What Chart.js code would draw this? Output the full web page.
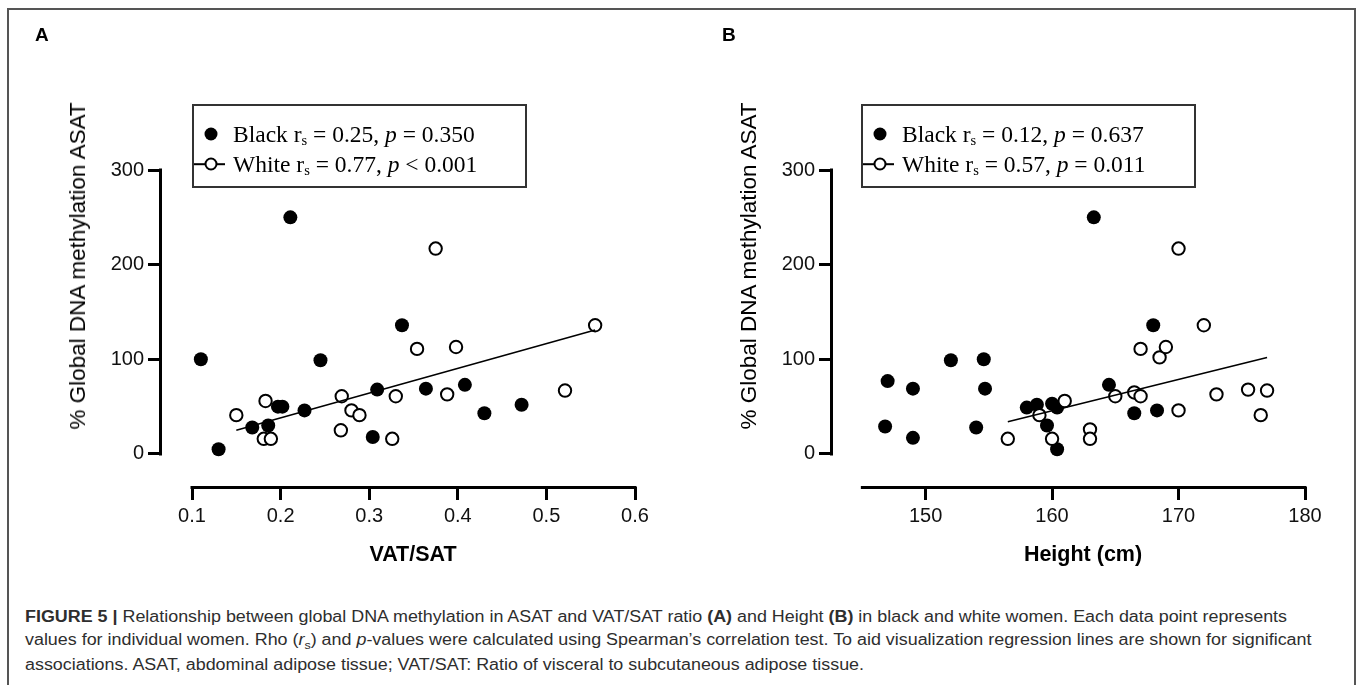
<!DOCTYPE html>
<html><head><meta charset="utf-8">
<script src="https://cdn.jsdelivr.net/npm/chart.js@4.4.1/dist/chart.umd.min.js"></script>
<style>
html,body{margin:0;padding:0;background:#fff;}
body{width:1358px;height:685px;position:relative;overflow:hidden;font-family:"Liberation Sans",Arial,sans-serif;color:#000;}
#frame{position:absolute;left:7px;top:8px;width:1349px;height:720px;border:2px solid #555;box-sizing:border-box;}
canvas{position:absolute;top:0;}
.letter{position:absolute;font-weight:bold;font-size:19px;line-height:19px;}
.ytitle{position:absolute;font-size:22.5px;white-space:nowrap;transform:translate(-50%,-50%) rotate(-90deg);}
.xtitle{position:absolute;font-size:21.5px;font-weight:bold;white-space:nowrap;transform:translate(-50%,-50%);}
.legend{position:absolute;border:2px solid #333;box-sizing:border-box;font-family:"Liberation Serif","Times New Roman",serif;font-size:23.5px;width:335px;height:84px;top:104px;}
.row{position:absolute;left:39px;white-space:nowrap;line-height:24px;transform:translateY(-50%);}
.row sub{font-size:0.62em;vertical-align:-0.22em;line-height:0;}
.dot{position:absolute;width:13px;height:13px;border-radius:50%;background:#000;transform:translate(-50%,-50%);}
.odot{position:absolute;width:13px;height:13px;border-radius:50%;background:#fff;border:2px solid #000;box-sizing:border-box;transform:translate(-50%,-50%);}
.lline{position:absolute;left:0;width:31px;height:1.6px;background:#000;transform:translateY(-50%);}
.cap{position:absolute;left:25px;white-space:nowrap;font-size:16px;color:#2e2e2e;transform-origin:0 50%;}
</style>
</head><body>
<div id="frame"></div>
<canvas id="cA" width="680" height="600" style="left:0px"></canvas>
<canvas id="cB" width="678" height="600" style="left:680px"></canvas>

<div class="letter" style="left:35px;top:25px">A</div>
<div class="letter" style="left:722px;top:25px">B</div>

<div class="ytitle" style="left:78px;top:266px">% Global DNA methylation ASAT</div>
<div class="ytitle" style="left:749px;top:266px">% Global DNA methylation ASAT</div>
<div class="xtitle" style="left:413px;top:554px">VAT/SAT</div>
<div class="xtitle" style="left:1083px;top:554px">Height (cm)</div>

<div class="legend" style="left:192px">
  <div class="dot" style="left:17px;top:28px"></div>
  <div class="row" style="top:28px">Black r<sub>s</sub> = 0.25, <i>p</i> = 0.350</div>
  <div class="lline" style="top:58px"></div>
  <div class="odot" style="left:17px;top:58px"></div>
  <div class="row" style="top:58px">White r<sub>s</sub> = 0.77, <i>p</i> &lt; 0.001</div>
</div>
<div class="legend" style="left:861px">
  <div class="dot" style="left:17px;top:28px"></div>
  <div class="row" style="top:28px">Black r<sub>s</sub> = 0.12, <i>p</i> = 0.637</div>
  <div class="lline" style="top:58px"></div>
  <div class="odot" style="left:17px;top:58px"></div>
  <div class="row" style="top:58px">White r<sub>s</sub> = 0.57, <i>p</i> = 0.011</div>
</div>

<div class="cap" id="cap1" style="top:617px"><b>FIGURE 5 |</b> Relationship between global DNA methylation in ASAT and VAT/SAT ratio <b>(A)</b> and Height <b>(B)</b> in black and white women. Each data point represents</div>
<div class="cap" id="cap2" style="top:641px">values for individual women. Rho (<i>r</i><sub style="font-size:0.7em">s</sub>) and <i>p</i>-values were calculated using Spearman’s correlation test. To aid visualization regression lines are shown for significant</div>
<div class="cap" id="cap3" style="top:665px">associations. ASAT, abdominal adipose tissue; VAT/SAT: Ratio of visceral to subcutaneous adipose tissue.</div>

<script>
// ---- Panel A: VAT/SAT ----
const blackA_x = [0.110,0.130,0.168,0.186,0.197,0.202,0.211,0.227,0.245,0.304,0.309,0.337,0.364,0.408,0.430,0.472];
const blackA_y = [100,5,28,30,50,50,250,46,99,18,68,136,69,73,43,52];
const whiteA_x = [0.150,0.181,0.183,0.189,0.268,0.269,0.280,0.289,0.326,0.330,0.354,0.375,0.388,0.398,0.521,0.555];
const whiteA_y = [41,16,56,16,25,61,46,41,16,61,111,217,63,113,67,136];
const fitA_x = [0.150,0.555];
const fitA_y = [25,131];
const ticksA_x = [0.1,0.2,0.3,0.4,0.5,0.6];

// ---- Panel B: Height ----
const blackB_x = [146.8,147.0,149.0,149.0,152.0,154.0,154.6,154.7,158.0,158.8,159.6,160.0,160.4,160.4,163.3,164.5,166.5,168.0,168.3];
const blackB_y = [29,77,69,17,99,28,100,69,49,52,30,53,49,5,250,73,43,136,46];
const whiteB_x = [156.5,159.0,160.0,161.0,163.0,163.0,165.0,166.5,167.0,167.0,168.5,169.0,170.0,170.0,172.0,173.0,175.5,176.5,177.0];
const whiteB_y = [16,41,16,56,26,16,61,65,111,61,102,113,217,46,136,63,68,41,67];
const fitB_x = [156.5,177.0];
const fitB_y = [34,102];
const ticksB_x = [150,160,170,180];

const ticks_y = [0,100,200,300];

const pts = (xs, ys) => xs.map((x,i)=>({x:x, y:ys[i]}));

const prismAxes = {
  id:'prismAxes',
  beforeDatasetsDraw(chart, args, o){
    const ctx = chart.ctx, ca = chart.chartArea;
    const xs = chart.scales.x, ys = chart.scales.y;
    ctx.save();
    ctx.strokeStyle = '#000';
    ctx.lineWidth = 3;
    ctx.lineCap = 'square';
    ctx.beginPath();
    ctx.moveTo(ca.left - 0.5, ys.getPixelForValue(o.yFrom));
    ctx.lineTo(ca.left - 0.5, ys.getPixelForValue(o.yTo));
    ctx.moveTo(xs.getPixelForValue(o.xFrom), ca.bottom + 0.5);
    ctx.lineTo(xs.getPixelForValue(o.xTo), ca.bottom + 0.5);
    ctx.stroke();
    ctx.restore();
  }
};

function makePanel(id, cfg){
  const tickFont = {family:'"Liberation Sans", Arial, sans-serif', size:20};
  const grid = {display:true, drawOnChartArea:false, drawTicks:true, tickLength:13, lineWidth:3, color:'#000'};
  return new Chart(document.getElementById(id), {
    type:'scatter',
    data:{datasets:[
      {type:'line', data:pts(cfg.fitX, cfg.fitY), borderColor:'#000', borderWidth:1.6, pointRadius:0, fill:false, order:0},
      {data:pts(cfg.wx, cfg.wy), pointRadius:6.2, pointBackgroundColor:'#fff', pointBorderColor:'#000', pointBorderWidth:2, order:1},
      {data:pts(cfg.bx, cfg.by), pointRadius:7, pointBackgroundColor:'#000', pointBorderColor:'#000', pointBorderWidth:0, order:2}
    ]},
    options:{
      responsive:false, animation:false, devicePixelRatio:1,
      layout:{padding:cfg.padding},
      plugins:{legend:{display:false}, tooltip:{enabled:false},
        prismAxes:{yFrom:0, yTo:300, xFrom:cfg.xLine[0], xTo:cfg.xLine[1]}},
      scales:{
        x:{type:'linear', min:cfg.xmin, max:cfg.xmax,
           afterBuildTicks:s=>{s.ticks = cfg.xticks.map(v=>({value:v}));},
           afterFit:s=>{s.height = 40;},
           ticks:{font:tickFont, color:'#111', padding:4, autoSkip:false, maxRotation:0, callback:cfg.fmt},
           grid:grid, border:{display:false}},
        y:{type:'linear', min:-34.9, max:300,
           afterBuildTicks:s=>{s.ticks = ticks_y.map(v=>({value:v}));},
           afterFit:s=>{s.width = 60;},
           ticks:{font:tickFont, color:'#111', padding:4, autoSkip:false, callback:v=>String(v)},
           grid:grid, border:{display:false}}
      }
    },
    plugins:[prismAxes]
  });
}

makePanel('cA', {bx:blackA_x, by:blackA_y, wx:whiteA_x, wy:whiteA_y, fitX:fitA_x, fitY:fitA_y,
  xmin:0.065, xmax:0.6, xticks:ticksA_x, xLine:[0.1,0.6], fmt:v=>Number(v).toFixed(1),
  padding:{left:101, right:45, top:170, bottom:73}});
makePanel('cB', {bx:blackB_x, by:blackB_y, wx:whiteB_x, wy:whiteB_y, fitX:fitB_x, fitY:fitB_y,
  xmin:142.6, xmax:180, xticks:ticksB_x, xLine:[145,180], fmt:v=>String(v),
  padding:{left:92, right:53, top:170, bottom:73}});

// fit caption line 1 to the reference width, apply same scale to all lines
(function(){
  const c1 = document.getElementById('cap1');
  const w = c1.getBoundingClientRect().width;
  const s = 1262 / w;
  ['cap1','cap2','cap3'].forEach(id=>{document.getElementById(id).style.transform='translateY(-50%) scaleX('+s+')';});
})();
</script>
</body></html>
